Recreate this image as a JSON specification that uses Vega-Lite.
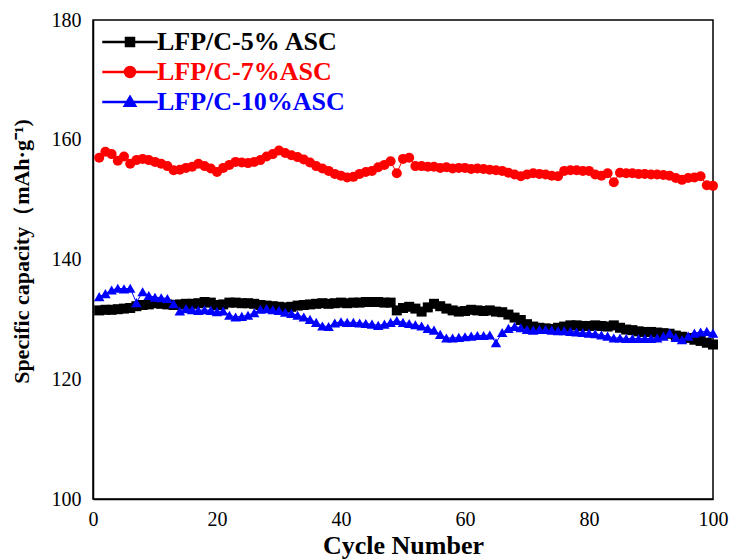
{
  "$schema": "https://vega.github.io/schema/vega-lite/v6.json",
  "width": 620,
  "height": 479,
  "autosize": {"type": "none"},
  "padding": {"top": 20, "left": 93, "right": 17, "bottom": 61},
  "background": "white",
  "config": {
    "view": {"stroke": "black", "strokeWidth": 1.5},
    "font": "Liberation Serif",
    "axis": {
      "domainColor": "black", "domainWidth": 1.5,
      "tickColor": "black", "tickWidth": 1.5, "tickSize": 0,
      "labelFont": "Liberation Serif", "labelFontSize": 20, "labelColor": "black",
      "titleFont": "Liberation Serif", "titleFontWeight": "bold", "titleColor": "black",
      "grid": false
    }
  },
  "data": {"values": [
    {"cycle":1,"LFP/C-5% ASC":131.5,"LFP/C-7%ASC":157.0,"LFP/C-10%ASC":133.8},
    {"cycle":2,"LFP/C-5% ASC":131.6,"LFP/C-7%ASC":158.0,"LFP/C-10%ASC":134.3},
    {"cycle":3,"LFP/C-5% ASC":131.6,"LFP/C-7%ASC":157.6,"LFP/C-10%ASC":134.9},
    {"cycle":4,"LFP/C-5% ASC":131.7,"LFP/C-7%ASC":156.5,"LFP/C-10%ASC":135.2},
    {"cycle":5,"LFP/C-5% ASC":131.8,"LFP/C-7%ASC":157.2,"LFP/C-10%ASC":135.1},
    {"cycle":6,"LFP/C-5% ASC":131.9,"LFP/C-7%ASC":156.0,"LFP/C-10%ASC":135.2},
    {"cycle":7,"LFP/C-5% ASC":132.2,"LFP/C-7%ASC":156.6,"LFP/C-10%ASC":132.8},
    {"cycle":8,"LFP/C-5% ASC":132.4,"LFP/C-7%ASC":156.8,"LFP/C-10%ASC":134.6},
    {"cycle":9,"LFP/C-5% ASC":132.5,"LFP/C-7%ASC":156.6,"LFP/C-10%ASC":134.0},
    {"cycle":10,"LFP/C-5% ASC":132.7,"LFP/C-7%ASC":156.3,"LFP/C-10%ASC":133.7},
    {"cycle":11,"LFP/C-5% ASC":132.6,"LFP/C-7%ASC":156.0,"LFP/C-10%ASC":133.6},
    {"cycle":12,"LFP/C-5% ASC":132.5,"LFP/C-7%ASC":155.6,"LFP/C-10%ASC":133.5},
    {"cycle":13,"LFP/C-5% ASC":132.4,"LFP/C-7%ASC":154.9,"LFP/C-10%ASC":132.6},
    {"cycle":14,"LFP/C-5% ASC":132.5,"LFP/C-7%ASC":155.0,"LFP/C-10%ASC":131.4},
    {"cycle":15,"LFP/C-5% ASC":132.6,"LFP/C-7%ASC":155.3,"LFP/C-10%ASC":131.8},
    {"cycle":16,"LFP/C-5% ASC":132.6,"LFP/C-7%ASC":155.5,"LFP/C-10%ASC":131.6},
    {"cycle":17,"LFP/C-5% ASC":132.7,"LFP/C-7%ASC":156.0,"LFP/C-10%ASC":131.5},
    {"cycle":18,"LFP/C-5% ASC":132.9,"LFP/C-7%ASC":155.6,"LFP/C-10%ASC":131.6},
    {"cycle":19,"LFP/C-5% ASC":132.8,"LFP/C-7%ASC":155.2,"LFP/C-10%ASC":131.5},
    {"cycle":20,"LFP/C-5% ASC":132.4,"LFP/C-7%ASC":154.6,"LFP/C-10%ASC":131.3},
    {"cycle":21,"LFP/C-5% ASC":132.5,"LFP/C-7%ASC":155.3,"LFP/C-10%ASC":131.4},
    {"cycle":22,"LFP/C-5% ASC":132.8,"LFP/C-7%ASC":155.8,"LFP/C-10%ASC":130.7},
    {"cycle":23,"LFP/C-5% ASC":132.8,"LFP/C-7%ASC":156.3,"LFP/C-10%ASC":130.4},
    {"cycle":24,"LFP/C-5% ASC":132.7,"LFP/C-7%ASC":156.2,"LFP/C-10%ASC":130.5},
    {"cycle":25,"LFP/C-5% ASC":132.7,"LFP/C-7%ASC":156.1,"LFP/C-10%ASC":130.7},
    {"cycle":26,"LFP/C-5% ASC":132.6,"LFP/C-7%ASC":156.3,"LFP/C-10%ASC":131.1},
    {"cycle":27,"LFP/C-5% ASC":132.4,"LFP/C-7%ASC":156.6,"LFP/C-10%ASC":131.7},
    {"cycle":28,"LFP/C-5% ASC":132.3,"LFP/C-7%ASC":157.2,"LFP/C-10%ASC":131.8},
    {"cycle":29,"LFP/C-5% ASC":132.2,"LFP/C-7%ASC":157.6,"LFP/C-10%ASC":131.6},
    {"cycle":30,"LFP/C-5% ASC":132.1,"LFP/C-7%ASC":158.2,"LFP/C-10%ASC":131.5},
    {"cycle":31,"LFP/C-5% ASC":132.0,"LFP/C-7%ASC":157.8,"LFP/C-10%ASC":131.2},
    {"cycle":32,"LFP/C-5% ASC":132.1,"LFP/C-7%ASC":157.4,"LFP/C-10%ASC":131.0},
    {"cycle":33,"LFP/C-5% ASC":132.3,"LFP/C-7%ASC":157.1,"LFP/C-10%ASC":130.7},
    {"cycle":34,"LFP/C-5% ASC":132.4,"LFP/C-7%ASC":156.7,"LFP/C-10%ASC":130.4},
    {"cycle":35,"LFP/C-5% ASC":132.5,"LFP/C-7%ASC":156.2,"LFP/C-10%ASC":130.0},
    {"cycle":36,"LFP/C-5% ASC":132.6,"LFP/C-7%ASC":155.6,"LFP/C-10%ASC":129.5},
    {"cycle":37,"LFP/C-5% ASC":132.7,"LFP/C-7%ASC":155.2,"LFP/C-10%ASC":128.9},
    {"cycle":38,"LFP/C-5% ASC":132.6,"LFP/C-7%ASC":154.8,"LFP/C-10%ASC":128.8},
    {"cycle":39,"LFP/C-5% ASC":132.7,"LFP/C-7%ASC":154.3,"LFP/C-10%ASC":129.4},
    {"cycle":40,"LFP/C-5% ASC":132.8,"LFP/C-7%ASC":154.0,"LFP/C-10%ASC":129.6},
    {"cycle":41,"LFP/C-5% ASC":132.7,"LFP/C-7%ASC":153.7,"LFP/C-10%ASC":129.5},
    {"cycle":42,"LFP/C-5% ASC":132.8,"LFP/C-7%ASC":153.8,"LFP/C-10%ASC":129.5},
    {"cycle":43,"LFP/C-5% ASC":132.8,"LFP/C-7%ASC":154.3,"LFP/C-10%ASC":129.4},
    {"cycle":44,"LFP/C-5% ASC":132.9,"LFP/C-7%ASC":154.6,"LFP/C-10%ASC":129.3},
    {"cycle":45,"LFP/C-5% ASC":132.9,"LFP/C-7%ASC":154.8,"LFP/C-10%ASC":129.2},
    {"cycle":46,"LFP/C-5% ASC":132.9,"LFP/C-7%ASC":155.4,"LFP/C-10%ASC":129.0},
    {"cycle":47,"LFP/C-5% ASC":132.8,"LFP/C-7%ASC":155.8,"LFP/C-10%ASC":129.2},
    {"cycle":48,"LFP/C-5% ASC":132.8,"LFP/C-7%ASC":156.4,"LFP/C-10%ASC":129.5},
    {"cycle":49,"LFP/C-5% ASC":131.5,"LFP/C-7%ASC":154.4,"LFP/C-10%ASC":129.8},
    {"cycle":50,"LFP/C-5% ASC":131.9,"LFP/C-7%ASC":156.8,"LFP/C-10%ASC":129.5},
    {"cycle":51,"LFP/C-5% ASC":132.1,"LFP/C-7%ASC":157.0,"LFP/C-10%ASC":129.3},
    {"cycle":52,"LFP/C-5% ASC":131.8,"LFP/C-7%ASC":155.6,"LFP/C-10%ASC":129.1},
    {"cycle":53,"LFP/C-5% ASC":131.3,"LFP/C-7%ASC":155.6,"LFP/C-10%ASC":128.9},
    {"cycle":54,"LFP/C-5% ASC":132.0,"LFP/C-7%ASC":155.5,"LFP/C-10%ASC":128.5},
    {"cycle":55,"LFP/C-5% ASC":132.6,"LFP/C-7%ASC":155.5,"LFP/C-10%ASC":128.2},
    {"cycle":56,"LFP/C-5% ASC":132.2,"LFP/C-7%ASC":155.3,"LFP/C-10%ASC":127.5},
    {"cycle":57,"LFP/C-5% ASC":131.8,"LFP/C-7%ASC":155.4,"LFP/C-10%ASC":126.9},
    {"cycle":58,"LFP/C-5% ASC":131.5,"LFP/C-7%ASC":155.2,"LFP/C-10%ASC":126.9},
    {"cycle":59,"LFP/C-5% ASC":131.3,"LFP/C-7%ASC":155.3,"LFP/C-10%ASC":127.0},
    {"cycle":60,"LFP/C-5% ASC":131.4,"LFP/C-7%ASC":155.3,"LFP/C-10%ASC":127.1},
    {"cycle":61,"LFP/C-5% ASC":131.6,"LFP/C-7%ASC":155.1,"LFP/C-10%ASC":127.2},
    {"cycle":62,"LFP/C-5% ASC":131.5,"LFP/C-7%ASC":155.2,"LFP/C-10%ASC":127.3},
    {"cycle":63,"LFP/C-5% ASC":131.4,"LFP/C-7%ASC":155.1,"LFP/C-10%ASC":127.3},
    {"cycle":64,"LFP/C-5% ASC":131.5,"LFP/C-7%ASC":155.0,"LFP/C-10%ASC":127.4},
    {"cycle":65,"LFP/C-5% ASC":131.3,"LFP/C-7%ASC":154.9,"LFP/C-10%ASC":126.1},
    {"cycle":66,"LFP/C-5% ASC":131.2,"LFP/C-7%ASC":154.8,"LFP/C-10%ASC":127.8},
    {"cycle":67,"LFP/C-5% ASC":130.8,"LFP/C-7%ASC":154.5,"LFP/C-10%ASC":128.5},
    {"cycle":68,"LFP/C-5% ASC":130.3,"LFP/C-7%ASC":154.2,"LFP/C-10%ASC":128.8},
    {"cycle":69,"LFP/C-5% ASC":129.9,"LFP/C-7%ASC":153.9,"LFP/C-10%ASC":128.6},
    {"cycle":70,"LFP/C-5% ASC":129.2,"LFP/C-7%ASC":154.2,"LFP/C-10%ASC":128.3},
    {"cycle":71,"LFP/C-5% ASC":128.8,"LFP/C-7%ASC":154.4,"LFP/C-10%ASC":128.2},
    {"cycle":72,"LFP/C-5% ASC":128.6,"LFP/C-7%ASC":154.3,"LFP/C-10%ASC":128.3},
    {"cycle":73,"LFP/C-5% ASC":128.5,"LFP/C-7%ASC":154.2,"LFP/C-10%ASC":128.3},
    {"cycle":74,"LFP/C-5% ASC":128.4,"LFP/C-7%ASC":154.0,"LFP/C-10%ASC":128.2},
    {"cycle":75,"LFP/C-5% ASC":128.6,"LFP/C-7%ASC":153.9,"LFP/C-10%ASC":128.1},
    {"cycle":76,"LFP/C-5% ASC":128.8,"LFP/C-7%ASC":154.8,"LFP/C-10%ASC":128.1},
    {"cycle":77,"LFP/C-5% ASC":129.0,"LFP/C-7%ASC":154.9,"LFP/C-10%ASC":128.0},
    {"cycle":78,"LFP/C-5% ASC":129.0,"LFP/C-7%ASC":154.9,"LFP/C-10%ASC":127.9},
    {"cycle":79,"LFP/C-5% ASC":128.9,"LFP/C-7%ASC":154.8,"LFP/C-10%ASC":127.8},
    {"cycle":80,"LFP/C-5% ASC":128.9,"LFP/C-7%ASC":154.8,"LFP/C-10%ASC":127.7},
    {"cycle":81,"LFP/C-5% ASC":129.0,"LFP/C-7%ASC":154.2,"LFP/C-10%ASC":127.6},
    {"cycle":82,"LFP/C-5% ASC":128.9,"LFP/C-7%ASC":154.0,"LFP/C-10%ASC":127.4},
    {"cycle":83,"LFP/C-5% ASC":128.8,"LFP/C-7%ASC":154.4,"LFP/C-10%ASC":127.2},
    {"cycle":84,"LFP/C-5% ASC":129.0,"LFP/C-7%ASC":152.9,"LFP/C-10%ASC":126.9},
    {"cycle":85,"LFP/C-5% ASC":128.6,"LFP/C-7%ASC":154.5,"LFP/C-10%ASC":126.9},
    {"cycle":86,"LFP/C-5% ASC":128.3,"LFP/C-7%ASC":154.4,"LFP/C-10%ASC":126.8},
    {"cycle":87,"LFP/C-5% ASC":128.2,"LFP/C-7%ASC":154.4,"LFP/C-10%ASC":126.8},
    {"cycle":88,"LFP/C-5% ASC":128.0,"LFP/C-7%ASC":154.3,"LFP/C-10%ASC":126.8},
    {"cycle":89,"LFP/C-5% ASC":127.9,"LFP/C-7%ASC":154.3,"LFP/C-10%ASC":126.8},
    {"cycle":90,"LFP/C-5% ASC":127.9,"LFP/C-7%ASC":154.2,"LFP/C-10%ASC":126.8},
    {"cycle":91,"LFP/C-5% ASC":127.8,"LFP/C-7%ASC":154.2,"LFP/C-10%ASC":126.9},
    {"cycle":92,"LFP/C-5% ASC":127.7,"LFP/C-7%ASC":154.1,"LFP/C-10%ASC":127.2},
    {"cycle":93,"LFP/C-5% ASC":127.6,"LFP/C-7%ASC":154.0,"LFP/C-10%ASC":127.7},
    {"cycle":94,"LFP/C-5% ASC":127.3,"LFP/C-7%ASC":153.6,"LFP/C-10%ASC":127.0},
    {"cycle":95,"LFP/C-5% ASC":127.1,"LFP/C-7%ASC":153.3,"LFP/C-10%ASC":126.6},
    {"cycle":96,"LFP/C-5% ASC":126.9,"LFP/C-7%ASC":153.6,"LFP/C-10%ASC":127.2},
    {"cycle":97,"LFP/C-5% ASC":126.6,"LFP/C-7%ASC":153.7,"LFP/C-10%ASC":127.7},
    {"cycle":98,"LFP/C-5% ASC":126.4,"LFP/C-7%ASC":153.9,"LFP/C-10%ASC":127.9},
    {"cycle":99,"LFP/C-5% ASC":126.1,"LFP/C-7%ASC":152.4,"LFP/C-10%ASC":128.0},
    {"cycle":100,"LFP/C-5% ASC":125.8,"LFP/C-7%ASC":152.3,"LFP/C-10%ASC":127.7}
  ]},
  "transform": [
    {"fold": ["LFP/C-5% ASC", "LFP/C-7%ASC", "LFP/C-10%ASC"], "as": ["series", "capacity"]}
  ],
  "resolve": {"axis": {"x": "independent", "y": "independent"}},
  "encoding": {
    "color": {"field": "series", "type": "nominal",
      "scale": {"domain": ["LFP/C-5% ASC", "LFP/C-7%ASC", "LFP/C-10%ASC"], "range": ["#000000", "#ff0000", "#0000ff"]},
      "legend": {
        "orient": "none", "legendX": 24, "legendY": 9, "padding": 0,
        "title": null, "symbolSize": 400, "symbolOpacity": 1, "labelFontSize": 26, "labelFontWeight": "bold",
        "labelFont": "Liberation Serif", "labelOffset": 14, "rowPadding": 4, "labelLimit": 0,
        "encode": {
          "labels": {"update": {"fill": {"scale": "color", "field": "value"}}}
        }
      }
    }
  },
  "layer": [
    {
      "encoding": {
        "x": {"field": "cycle", "type": "quantitative",
          "scale": {"domain": [0, 100], "nice": false, "zero": false},
          "axis": {"title": "Cycle Number", "titleFontSize": 26, "titlePadding": 3,
            "values": [0,10,20,30,40,50,60,70,80,90,100],
            "labelExpr": "datum.value % 20 === 0 ? datum.label : ''",
            "encode": {"ticks": {"y2": {"condition": {"test": "datum.value % 20 === 0", "value": -7}, "value": -4}}},
            "labelPadding": 10, "labelFlush": false, "labelOverlap": false}},
        "y": {"field": "capacity", "type": "quantitative",
          "scale": {"domain": [100, 180], "nice": false, "zero": false},
          "axis": {"title": "Specific capacity（mAh·g⁻¹)", "titleFontSize": 22, "titlePadding": 18, "titleY": 231,
            "values": [100,110,120,130,140,150,160,170,180],
            "labelExpr": "datum.value % 20 === 0 ? datum.label : ''",
            "encode": {"ticks": {"x2": {"condition": {"test": "datum.value % 20 === 0", "value": 7}, "value": 4}}},
            "labelPadding": 12, "labelFlush": false, "labelOverlap": false}}
      },
      "layer": [
        {"mark": {"type": "line", "strokeWidth": 1},
         "encoding": {"detail": {"field": "series"}}},
        {"transform": [{"filter": "datum.series === 'LFP/C-5% ASC'"}],
         "mark": {"type": "point", "shape": "square", "filled": true, "opacity": 1, "size": 100}},
        {"transform": [{"filter": "datum.series === 'LFP/C-7%ASC'"}],
         "mark": {"type": "point", "shape": "circle", "filled": true, "opacity": 1, "size": 100}},
        {"transform": [{"filter": "datum.series === 'LFP/C-10%ASC'"}],
         "mark": {"type": "point", "shape": "triangle-up", "filled": true, "opacity": 1, "size": 110}}
      ]
    },
    {
      "mark": {"type": "point", "filled": true, "opacity": 0},
      "encoding": {
        "x": {"field": "cycle", "type": "quantitative",
          "axis": {"orient": "top", "title": null, "labels": false, "domain": false,
            "values": [0,10,20,30,40,50,60,70,80,90,100],
            "encode": {"ticks": {"y2": {"condition": {"test": "datum.value % 20 === 0", "value": 7}, "value": 4}}}}},
        "y": {"field": "capacity", "type": "quantitative",
          "axis": {"orient": "right", "title": null, "labels": false, "domain": false,
            "values": [100,110,120,130,140,150,160,170,180],
            "encode": {"ticks": {"x2": {"condition": {"test": "datum.value % 20 === 0", "value": -7}, "value": -4}}}}},
        "shape": {"field": "series", "type": "nominal", "legend": null,
          "scale": {"domain": ["LFP/C-5% ASC", "LFP/C-7%ASC", "LFP/C-10%ASC"],
            "range": [
              "M-2.7,-0.05H2.7V0.05H-2.7Z M-0.45,-0.45H0.45V0.45H-0.45Z",
              "M-2.7,-0.05H2.7V0.05H-2.7Z M-0.55,0A0.55,0.55 0 1,1 0.55,0A0.55,0.55 0 1,1 -0.55,0Z",
              "M-2.7,-0.05H2.7V0.05H-2.7Z M0,-0.6L0.6,0.42L-0.6,0.42Z"
            ]}}
      }
    }
  ]
}
